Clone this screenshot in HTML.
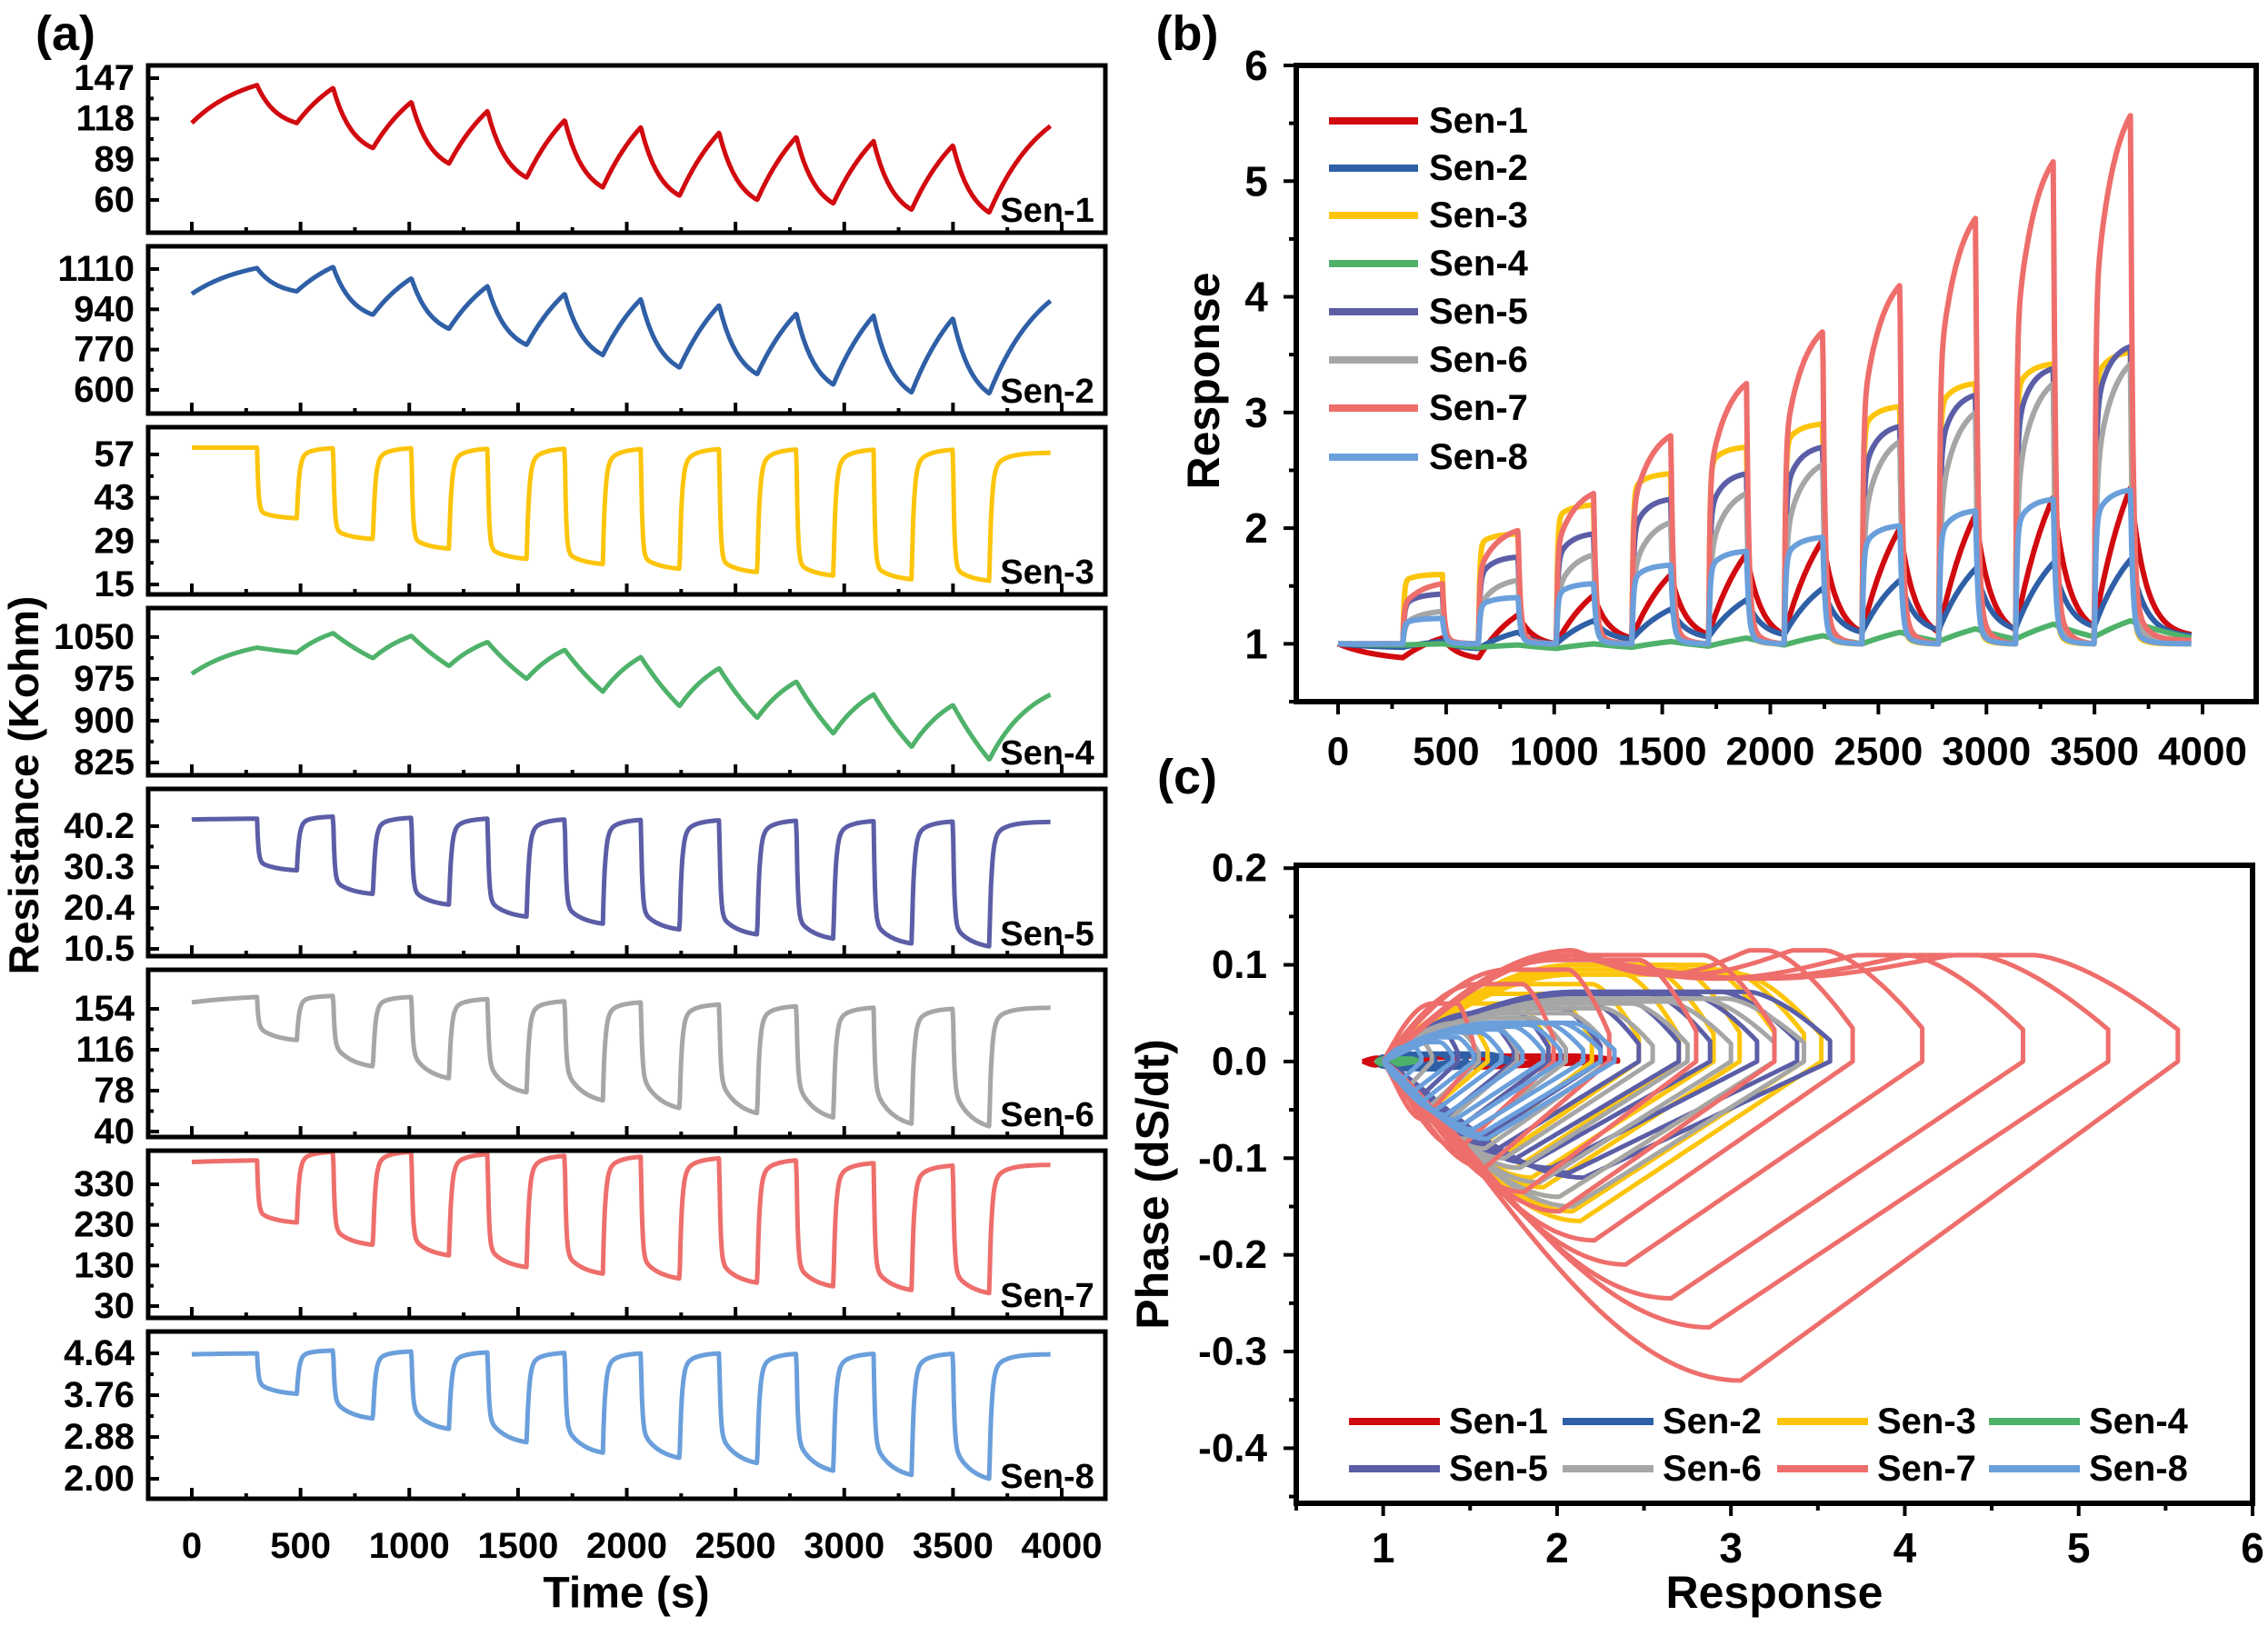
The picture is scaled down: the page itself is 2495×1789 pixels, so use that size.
<!DOCTYPE html>
<html><head><meta charset="utf-8"><style>
html,body{margin:0;padding:0;background:#fff}
svg{display:block}
text{font-family:"Liberation Sans",Arial,sans-serif;font-weight:bold;fill:#000}
</style></head><body>
<svg id="fig" xmlns="http://www.w3.org/2000/svg" width="2495" height="1789" viewBox="0 0 2495 1789"></svg>
<script>
// ---------- shared data ----------
const sensorNames = ["Sen-1","Sen-2","Sen-3","Sen-4","Sen-5","Sen-6","Sen-7","Sen-8"];
const sensorColors = ["#d10a0f","#2f5fa6","#fcc50b","#4fb26a","#5b5ea6","#a6a6a6","#ee6e6b","#6a9fdb"];
const gasOn  = [300,650,1010,1360,1715,2065,2425,2780,3135,3500];
const gasOff = [483,833,1183,1540,1890,2243,2600,2950,3310,3667];
const tEnd = 3950;

// panel (a) resistance values: start, value at gas-on, value at gas-off, end
const resStart = [115,1005,59.2,984,41.8,160,385,4.62];
const resOn1 = [142,140,130,123.5,117,112,108,105,102,99];
const resOff1 = [115,97,86,76,69,63,60,57.5,53,51];
const resOn2 = [1114,1119,1071,1038,1005,983,957,922,913,902];
const resOff2 = [1016,917,858,790,747,694,666,622,589,585];
const resOn3 = [59.2,59,59,58.8,58.8,58.7,58.7,58.6,58.5,58.5];
const resOff3 = [36.4,29.7,26.6,23.3,21.6,20.1,19,17.9,16.7,16.2];
const resOn4 = [1031,1057,1052,1041,1027,1014,994,970,947,928];
const resOff4 = [1022,1012,998,975,952,926,905,877,853,830];
const resOn5 = [42,42.5,42.2,42,41.8,41.7,41.6,41.5,41.4,41.3];
const resOff5 = [29.5,23.8,21.2,18.3,16.6,15.2,14,13,11.8,11.1];
const resOn6 = [165,166,165,163,161,160,158,156.4,155,154];
const resOff6 = [125,100.6,89.5,76.4,69,61.8,57,53,47.3,44.9];
const resOn7 = [389,410,410,404,400,398,394,389,382,376];
const resOff7 = [236,181,155,126,110,98,87.5,78.5,69.6,62];
const resOn8 = [4.64,4.70,4.68,4.66,4.65,4.64,4.64,4.63,4.63,4.63];
const resOff8 = [3.79,3.27,3.05,2.77,2.55,2.44,2.33,2.17,2.08,2.0];
const resEnd = [113,977,57.5,947,41.2,155,378,4.62];
const resYMin = [36.6,500,11.8,802,8.74,34.9,0.9,1.58];
const resYMax = [156.1,1206,65.8,1102,49.2,190.3,413,5.10];
const resTickLabels = [["147","118","89","60"],["1110","940","770","600"],["57","43","29","15"],["1050","975","900","825"],
  ["40.2","30.3","20.4","10.5"],["154","116","78","40"],["330","230","130","30"],["4.64","3.76","2.88","2.00"]];
const timeTicks = [0,500,1000,1500,2000,2500,3000,3500,4000];

// panel (b) response: value at gas-on and at gas-off (peak)
const respOn1 = [0.88,0.88,1.0,1.05,1.08,1.08,1.1,1.1,1.12,1.15];
const respPeak1 = [1.05,1.25,1.42,1.6,1.78,1.9,2.0,2.12,2.27,2.35];
const respOn2 = [0.97,0.96,1.0,1.04,1.06,1.08,1.1,1.12,1.13,1.15];
const respPeak2 = [1.02,1.1,1.2,1.3,1.38,1.48,1.55,1.65,1.7,1.73];
const respOn3 = [1,1,1,1,1,1,1,1,1,1];
const respPeak3 = [1.6,1.95,2.2,2.47,2.7,2.9,3.05,3.25,3.42,3.52];
const respOn4 = [0.99,0.97,0.96,0.97,0.98,0.99,1.0,1.02,1.04,1.06];
const respPeak4 = [1.0,0.99,1.0,1.02,1.05,1.07,1.1,1.13,1.17,1.2];
const respOn5 = [1,1,1,1,1,1,1,1,1,1];
const respPeak5 = [1.43,1.75,1.95,2.25,2.47,2.7,2.88,3.15,3.38,3.57];
const respOn6 = [1,1,1,1,1,1,1,1,1,1];
const respPeak6 = [1.28,1.55,1.77,2.05,2.3,2.55,2.75,3.0,3.25,3.42];
const respOn7 = [1,1,1,1,1,1,1,1,1,1];
const respPeak7 = [1.52,1.98,2.3,2.8,3.25,3.7,4.1,4.68,5.17,5.57];
const respOn8 = [1,1,1,1,1,1,1,1,1,1];
const respPeak8 = [1.22,1.4,1.52,1.68,1.8,1.92,2.02,2.15,2.25,2.33];
const respEnd = [1.08,1.07,1.0,1.05,1.02,1.02,1.03,1.0];
const respTicks = [1,2,3,4,5,6];

// panel (c) phase extrema per cycle
const phasePos1=[0.004,0.005,0.005,0.006,0.006,0.006,0.006,0.006,0.006,0.006];
const phaseNeg1=[-0.004,-0.005,-0.005,-0.006,-0.006,-0.006,-0.006,-0.006,-0.006,-0.006];
const phasePos2=[0.005,0.006,0.007,0.008,0.008,0.008,0.008,0.008,0.008,0.008];
const phaseNeg2=[-0.005,-0.006,-0.007,-0.008,-0.008,-0.008,-0.008,-0.008,-0.008,-0.008];
const phasePos3=[0.04,0.06,0.07,0.08,0.09,0.095,0.1,0.1,0.095,0.09];
const phaseNeg3=[-0.05,-0.07,-0.09,-0.1,-0.11,-0.12,-0.13,-0.14,-0.155,-0.165];
const phasePos4=[0.002,0.002,0.002,0.003,0.003,0.003,0.003,0.003,0.003,0.003];
const phaseNeg4=[-0.002,-0.002,-0.002,-0.003,-0.003,-0.003,-0.003,-0.003,-0.003,-0.003];
const phasePos5=[0.03,0.04,0.05,0.055,0.06,0.065,0.07,0.07,0.072,0.072];
const phaseNeg5=[-0.04,-0.06,-0.07,-0.08,-0.09,-0.1,-0.105,-0.11,-0.115,-0.12];
const phasePos6=[0.02,0.03,0.04,0.045,0.05,0.055,0.06,0.062,0.065,0.065];
const phaseNeg6=[-0.03,-0.05,-0.065,-0.08,-0.09,-0.1,-0.11,-0.125,-0.14,-0.15];
const phasePos7=[0.06,0.08,0.095,0.105,0.11,0.115,0.115,0.11,0.11,0.11];
const phaseNeg7=[-0.06,-0.09,-0.11,-0.135,-0.155,-0.185,-0.21,-0.245,-0.275,-0.33];
const phasePos8=[0.015,0.02,0.025,0.03,0.033,0.036,0.038,0.04,0.04,0.04];
const phaseNeg8=[-0.02,-0.03,-0.04,-0.05,-0.055,-0.06,-0.065,-0.07,-0.075,-0.08];
const phaseXTicks=[1,2,3,4,5,6];
const phaseYTicks=[0.2,0.1,0.0,-0.1,-0.2,-0.3,-0.4];
const phaseYLabels=["0.2","0.1","0.0","-0.1","-0.2","-0.3","-0.4"];

// ---------- helpers ----------
const NS="http://www.w3.org/2000/svg";
const svg=document.getElementById('fig');
function mk(tag,attrs,parent){const e=document.createElementNS(NS,tag);for(const k in attrs)e.setAttribute(k,attrs[k]);(parent||svg).appendChild(e);return e;}
function txt(s,x,y,size,anchor,parent){const e=mk('text',{x:x,y:y,'font-size':size,'text-anchor':anchor||'middle','dominant-baseline':'central'},parent);e.textContent=s;return e;}
function seg(v0,v1,D,dt,p){
  const g=t=>p.a*(1-Math.exp(-t/p.t1))+(1-p.a)*(1-Math.exp(-t/p.t2));
  return v0+(v1-v0)*g(dt)/g(D);
}
function series(start,onV,offV,end,pre,expo,rec){
  const pts=[];
  for(let t=0;t<=tEnd;t+=3){
    let v;
    if(t<gasOn[0]) v=seg(start,onV[0],gasOn[0],t,pre);
    else{
      let i=gasOn.length-1; while(i>0&&t<gasOn[i])i--;
      if(t<gasOff[i]) v=seg(onV[i],offV[i],gasOff[i]-gasOn[i],t-gasOn[i],expo);
      else{const nt=i<gasOn.length-1?gasOn[i+1]:tEnd;const nv=i<gasOn.length-1?onV[i+1]:end;v=seg(offV[i],nv,nt-gasOff[i],Math.min(t,nt)-gasOff[i],rec);}
    }
    pts.push([t,v]);
  }
  return pts;
}

// ---------- panel (a) ----------
const aL=163,aR=1216,aH=184,aTops=[72,271,470,669,868,1067,1266,1465];
const ax=t=>aL+48+(t)*(1168-211)/4000;
const resOn=[resOn1,resOn2,resOn3,resOn4,resOn5,resOn6,resOn7,resOn8];
const resOff=[resOff1,resOff2,resOff3,resOff4,resOff5,resOff6,resOff7,resOff8];
const saw={a:0,t1:1,t2:90}, sawRec={a:0,t1:1,t2:250}, sawPre={a:0,t1:1,t2:250};
const sq4={a:0,t1:1,t2:400}, sqRec4={a:0,t1:1,t2:200};
const aExpA=[0,0,0.88,0,0.8,0.65,0.8,0.7];
const gA=mk('g',{});
txt("(a)",72,37,54,'middle',gA);
for(let s=0;s<8;s++){
  const T=aTops[s],B=T+aH;
  const ay=v=>B-(v-resYMin[s])/(resYMax[s]-resYMin[s])*aH;
  const g=mk('g',{},gA);
  let expo,rec,pre;
  if(s===0||s===1){expo=saw;rec=sawRec;pre=sawPre;}
  else if(s===3){expo=sq4;rec=sqRec4;pre=sawPre;}
  else{expo={a:aExpA[s],t1:6,t2:80};rec={a:0.85,t1:10,t2:60};pre={a:0,t1:1,t2:300};}
  const pts=series(resStart[s],resOn[s],resOff[s],resEnd[s],pre,expo,rec);
  const line=mk('polyline',{points:pts.map(p=>ax(p[0]).toFixed(1)+','+ay(p[1]).toFixed(1)).join(' '),fill:'none',stroke:sensorColors[s],'stroke-width':5,'stroke-linejoin':'round'},g);
  
  timeTicks.forEach(t=>{mk('line',{x1:ax(t),x2:ax(t),y1:B,y2:B-12,stroke:'#000','stroke-width':4},g);if(t<4000)mk('line',{x1:ax(t+250),x2:ax(t+250),y1:B,y2:B-6,stroke:'#000','stroke-width':4},g);});
  const tl=resTickLabels[s];
  tl.forEach((lab,k)=>{const v=parseFloat(lab);const y=ay(v);
    mk('line',{x1:aL,x2:aL+12,y1:y,y2:y,stroke:'#000','stroke-width':4},g);
    if(k<3){const v2=parseFloat(tl[k+1]);const ym=ay((v+v2)/2);mk('line',{x1:aL,x2:aL+6,y1:ym,y2:ym,stroke:'#000','stroke-width':4},g);}
    const lt=txt(lab,148,y,40,'end',g);});
  mk('rect',{x:aL,y:T,width:aR-aL,height:aH,fill:'none',stroke:'#000','stroke-width':5},g);
  const sl=txt(sensorNames[s],1152,B-24,38,'middle',g);
}
timeTicks.forEach(t=>{const e=txt(String(t),ax(t),1701,40,'middle',gA);});
const at=txt("Time (s)",689,1753,48,'middle',gA);
const ry=txt("Resistance (Kohm)",0,0,46,'middle',gA);ry.setAttribute('transform','translate(26,864) rotate(-90)');


// ---------- panel (b) ----------
const bL=1426,bR=2482,bT=72,bB=772;
const bx=t=>1472+t*(2423-1472)/4000;
const by=v=>bB-(v-0.5)/(6-0.5)*(bB-bT);
const respOn=[respOn1,respOn2,respOn3,respOn4,respOn5,respOn6,respOn7,respOn8];
const respPeak=[respPeak1,respPeak2,respPeak3,respPeak4,respPeak5,respPeak6,respPeak7,respPeak8];
const bRise=[{a:0,t1:1,t2:200},{a:0,t1:1,t2:200},{a:0.9,t1:5,t2:60},{a:0,t1:1,t2:400},{a:0.75,t1:6,t2:60},{a:0.55,t1:8,t2:80},{a:0.6,t1:5,t2:90},{a:0.8,t1:6,t2:60}];
const bFall=[{a:0,t1:1,t2:70},{a:0,t1:1,t2:70},{a:0.95,t1:8,t2:40},{a:0,t1:1,t2:400},{a:0.9,t1:10,t2:50},{a:0.9,t1:10,t2:50},{a:0.9,t1:10,t2:50},{a:0.9,t1:10,t2:50}];
const gB=mk('g',{});
txt("(b)",1306,37,54,'middle',gB);
const clipB=mk('clipPath',{id:'cb'},gB);mk('rect',{x:bL,y:bT,width:bR-bL,height:bB-bT},clipB);
for(let s=0;s<8;s++){
  const pts=series(1.0,respOn[s],respPeak[s],respEnd[s],{a:0,t1:1,t2:200},bRise[s],bFall[s]);
  const l=mk('polyline',{points:pts.map(p=>bx(p[0]).toFixed(1)+','+by(p[1]).toFixed(1)).join(' '),fill:'none',stroke:sensorColors[s],'stroke-width':6,'stroke-linejoin':'round','clip-path':'url(#cb)'},gB);
  
}
mk('rect',{x:bL,y:bT,width:bR-bL,height:bB-bT,fill:'none',stroke:'#000','stroke-width':6},gB);
timeTicks.forEach(t=>{mk('line',{x1:bx(t),x2:bx(t),y1:bB,y2:bB+14,stroke:'#000','stroke-width':4},gB);if(t<4000)mk('line',{x1:bx(t+250),x2:bx(t+250),y1:bB,y2:bB+8,stroke:'#000','stroke-width':4},gB);
  const e=txt(String(t),bx(t),827,44,'middle',gB);});
respTicks.forEach(v=>{mk('line',{x1:bL,x2:bL-14,y1:by(v),y2:by(v),stroke:'#000','stroke-width':4},gB);mk('line',{x1:bL,x2:bL-8,y1:by(v-0.5),y2:by(v-0.5),stroke:'#000','stroke-width':4},gB);
  const e=txt(String(v),1382,by(v),46,'middle',gB);});
const br=txt("Response",0,0,50,'middle',gB);br.setAttribute('transform','translate(1324,419) rotate(-90)');

const legB=mk('g',{},gB);
const legBY=[133,185,237,290,343,396,449,503];
for(let s=0;s<8;s++){const e=mk('g',{},legB);
  mk('line',{x1:1462,x2:1560,y1:legBY[s],y2:legBY[s],stroke:sensorColors[s],'stroke-width':8},e);txt(sensorNames[s],1572,legBY[s],40,'start',e);}

// ---------- panel (c) ----------
const cL=1426,cR=2478,cT=952,cB=1654;
const cx=v=>cL+(v-0.5)/(6-0.5)*(cR-cL);
const cy=v=>cT+(0.203-v)/(0.203+0.457)*(cB-cT);
const phasePos=[phasePos1,phasePos2,phasePos3,phasePos4,phasePos5,phasePos6,phasePos7,phasePos8];
const phaseNeg=[phaseNeg1,phaseNeg2,phaseNeg3,phaseNeg4,phaseNeg5,phaseNeg6,phaseNeg7,phaseNeg8];
const gC=mk('g',{});
txt("(c)",1306,855,54,'middle',gC);
for(let s=0;s<8;s++){
  const g=mk('g',{},gC);
  for(let c=0;c<10;c++){
    const pk=respPeak[s][c],base=Math.min(1,respOn[s][c]);const range=pk-base;const pts=[];
    const N=100;const w=Math.min(range*0.55,1.1);
    for(let k=0;k<=N;k++){const u=k/N;const dS=u*range;
      let h=dS<w?Math.sin(Math.PI/2*dS/w):1;
      if(s===6&&range>2.5){const m=(dS-w)/(range-w);if(dS>w)h*=1-0.22*Math.sin(Math.PI*Math.min(1,m*1.6))*(m<0.62?1:0);}
      if(u>0.82){const q=(u-0.82)/0.18;h*=1-0.7*Math.pow(q,1.5);}
      pts.push([base+dS,phasePos[s][c]*h]);}
    const um=0.45;
    for(let k=N;k>=0;k--){const u=k/N;const h=u<um?Math.pow(Math.sin(Math.PI/2*u/um),1.2):(1-u)/(1-um);pts.push([base+u*range,phaseNeg[s][c]*h]);}
    const l=mk('polyline',{points:pts.map(p=>cx(p[0]).toFixed(1)+','+cy(p[1]).toFixed(1)).join(' '),fill:'none',stroke:sensorColors[s],'stroke-width':5,'stroke-linejoin':'round'},g);
    
  }
}
mk('rect',{x:cL,y:cT,width:cR-cL,height:cB-cT,fill:'none',stroke:'#000','stroke-width':6},gC);
phaseXTicks.forEach(v=>{mk('line',{x1:cx(v),x2:cx(v),y1:cB,y2:cB+14,stroke:'#000','stroke-width':4},gC);mk('line',{x1:cx(v-0.5),x2:cx(v-0.5),y1:cB,y2:cB+8,stroke:'#000','stroke-width':4},gC);
  const e=txt(String(v),cx(v),1703,46,'middle',gC);});
phaseYTicks.forEach((v,k)=>{mk('line',{x1:cL,x2:cL-14,y1:cy(v),y2:cy(v),stroke:'#000','stroke-width':4},gC);mk('line',{x1:cL,x2:cL-8,y1:cy(v-0.05),y2:cy(v-0.05),stroke:'#000','stroke-width':4},gC);
  const e=txt(phaseYLabels[k],1394,cy(v),44,'end',gC);});
const cxl=txt("Response",1952,1752,50,'middle',gC);
const cyl=txt("Phase (dS/dt)",0,0,50,'middle',gC);cyl.setAttribute('transform','translate(1268,1303) rotate(-90)');

const legC=mk('g',{},gC);
const colLX=[1484,1719,1955,2188];
for(let s=0;s<8;s++){const col=s%4,row=Math.floor(s/4);const y=row?1616:1564;
  const e=mk('g',{},legC);
  mk('line',{x1:colLX[col],x2:colLX[col]+100,y1:y,y2:y,stroke:sensorColors[s],'stroke-width':8},e);txt(sensorNames[s],colLX[col]+110,y,40,'start',e);}
</script>
</body></html>
